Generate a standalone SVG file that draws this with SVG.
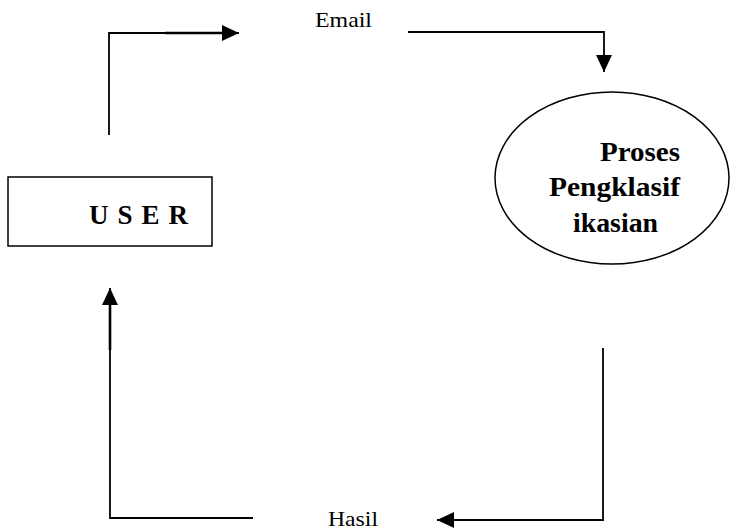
<svg xmlns="http://www.w3.org/2000/svg" width="731" height="531" viewBox="0 0 731 531">
<style>
.line{fill:none;stroke:#000;stroke-width:1.8}
.thick{fill:none;stroke:#000;stroke-width:2.6}
.shape{fill:#fff;stroke:#000;stroke-width:1.5}
.lbl{font-family:"Liberation Serif","DejaVu Serif",serif;font-size:22px;fill:#000}
.bold{font-family:"Liberation Serif","DejaVu Serif",serif;font-size:27px;font-weight:bold;fill:#000}
</style>
<defs>
<marker id="ah" markerWidth="18" markerHeight="16" refX="17" refY="8" orient="auto" markerUnits="userSpaceOnUse">
<path d="M0,0 L17,8 L0,16 Z" fill="#000"/>
</marker>
</defs>
<g id="connectors">
<polyline class="line" points="109,135 109,33 239,33" marker-end="url(#ah)"/>
<line class="thick" x1="165" y1="33" x2="225" y2="33"/>
<polyline class="line" points="408,32 604,32 604,72" marker-end="url(#ah)"/>
<polyline class="line" points="603,348 603,520 437,520" marker-end="url(#ah)"/>
<polyline class="line" points="253,518 110,518 110,288" marker-end="url(#ah)"/>
<line class="thick" x1="110" y1="350" x2="110" y2="300"/>
<text class="lbl" x="315" y="27" textLength="57" lengthAdjust="spacingAndGlyphs">Email</text>
<text class="lbl" x="328" y="526" textLength="50" lengthAdjust="spacingAndGlyphs">Hasil</text>
</g>
<g id="user">
<rect class="shape" x="8" y="177" width="204" height="69"/>
<text class="bold" x="89" y="224" font-size="24" letter-spacing="9">USER</text>
</g>
<g id="proses">
<ellipse class="shape" cx="612" cy="178" rx="117" ry="86"/>
<text class="bold" x="600" y="161" textLength="80" lengthAdjust="spacingAndGlyphs">Proses</text>
<text class="bold" x="549" y="196" textLength="131" lengthAdjust="spacingAndGlyphs">Pengklasif</text>
<text class="bold" x="573" y="232" textLength="85" lengthAdjust="spacingAndGlyphs">ikasian</text>
</g>
</svg>
